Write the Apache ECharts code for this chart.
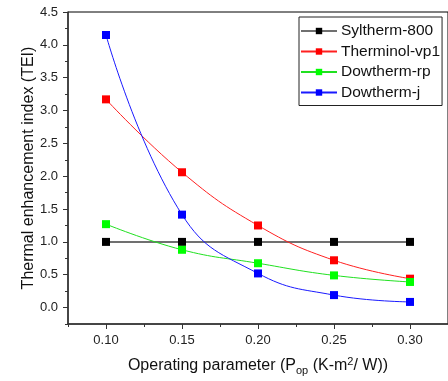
<!DOCTYPE html>
<html>
<head>
<meta charset="utf-8">
<script src="https://cdn.jsdelivr.net/npm/echarts@6/dist/echarts.min.js"></script>
<style>
  html, body { margin: 0; padding: 0; background: #fff; }
  #chart { width: 448px; height: 381px; }
</style>
</head>
<body>
<div id="chart"></div>
<script>
// operating parameter values (x)
const pop = [0.10, 0.15, 0.20, 0.25, 0.30]
const syltherm = [1.0, 1.0, 1.0, 1.0, 1.0]
const therminol = [3.17, 2.06, 1.25, 0.72, 0.44]
const dowthermRp = [1.27, 0.88, 0.675, 0.49, 0.39]
const dowthermJ = [4.15, 1.415, 0.52, 0.19, 0.086]

const xMajor = [0.10, 0.15, 0.20, 0.25, 0.30]
const xMinor = [0.075, 0.125, 0.175, 0.225, 0.275, 0.325]
const yMajor = [0, 0.5, 1.0, 1.5, 2.0, 2.5, 3.0, 3.5, 4.0, 4.5]
const yMinor = [-0.25, 0.25, 0.75, 1.25, 1.75, 2.25, 2.75, 3.25, 3.75, 4.25]

const FONT = 'Liberation Sans, Arial, sans-serif'
const pairs = ys => ys.map((y, i) => [pop[i], y])

const mkSeries = (name, ys, color, lineColor, lineWidth, smooth) => ({
  type: 'line',
  name,
  data: pairs(ys),
  smooth,
  symbol: 'rect',
  symbolSize: 8,
  itemStyle: { color },
  lineStyle: { color: lineColor, width: lineWidth },
  emphasis: { disabled: true },
  z: 3,
})

const chart = echarts.init(document.getElementById('chart'))

chart.setOption({
  animation: false,
  textStyle: { fontFamily: FONT },
  grid: {
    left: 68, top: 12, width: 386, height: 314,
    show: true, borderColor: '#000', borderWidth: 1,
  },
  legend: {
    orient: 'vertical',
    left: 299, top: 17,
    padding: [6, 2, 5, 1],
    itemGap: 4.5,
    itemWidth: 36,
    itemHeight: 8,
    borderColor: '#222',
    borderWidth: 1,
    textStyle: { fontSize: 15.5, color: '#111', padding: [0, 0, 0, -1] },
    data: ['Syltherm-800', 'Therminol-vp1', 'Dowtherm-rp', 'Dowtherm-j'],
  },
  xAxis: [{
    type: 'value',
    min: 0.075, max: 0.325,
    name: 'Operating parameter (P{sub|op} (K-m{sup|2}/ W))',
    nameLocation: 'middle',
    nameGap: 32,
    nameMoveOverlap: false,
    nameTextStyle: {
      fontSize: 16, color: '#111', fontFamily: FONT,
      rich: {
        sub: { fontSize: 11, color: '#111', padding: [9, 0, 0, 0] },
        sup: { fontSize: 11, color: '#111', padding: [0, 0, 8, 0] },
      },
    },
    axisLine: { onZero: false, lineStyle: { color: '#333', width: 1.5 } },
    axisTick: { customValues: xMajor, length: 5, lineStyle: { color: '#333' } },
    axisLabel: {
      customValues: xMajor, fontSize: 13, color: '#222', margin: 10,
      formatter: v => v.toFixed(2),
    },
    splitLine: { show: false },
  }, {
    // minor ticks
    type: 'value',
    min: 0.075, max: 0.325,
    position: 'bottom',
    offset: 0,
    axisLine: { show: false, onZero: false },
    axisTick: { customValues: xMinor, length: 3, lineStyle: { color: '#333' } },
    axisLabel: { show: false },
    splitLine: { show: false },
  }],
  yAxis: [{
    type: 'value',
    min: -0.25, max: 4.5,
    name: 'Thermal enhancement index (TEI)',
    nameLocation: 'middle',
    nameGap: 31,
    nameMoveOverlap: false,
    nameTextStyle: { fontSize: 16, color: '#111', fontFamily: FONT },
    axisLine: { onZero: false, lineStyle: { color: '#333', width: 1.5 } },
    axisTick: { customValues: yMajor, length: 5, lineStyle: { color: '#333' } },
    axisLabel: {
      customValues: yMajor, fontSize: 13, color: '#222', margin: 10,
      formatter: v => v.toFixed(1),
    },
    splitLine: { show: false },
  }, {
    // minor ticks
    type: 'value',
    min: -0.25, max: 4.5,
    position: 'left',
    offset: 0,
    axisLine: { show: false, onZero: false },
    axisTick: { customValues: yMinor, length: 3, lineStyle: { color: '#333' } },
    axisLabel: { show: false },
    splitLine: { show: false },
  }],
  series: [
    mkSeries('Syltherm-800', syltherm, '#000', '#707070', 2, false),
    mkSeries('Therminol-vp1', therminol, '#ff0000', '#ff2020', 1, 0.45),
    mkSeries('Dowtherm-rp', dowthermRp, '#00ff00', '#20e020', 1, 0.45),
    mkSeries('Dowtherm-j', dowthermJ, '#0000ff', '#1a1aff', 1, 0.45),
  ],
})
</script>
</body>
</html>
